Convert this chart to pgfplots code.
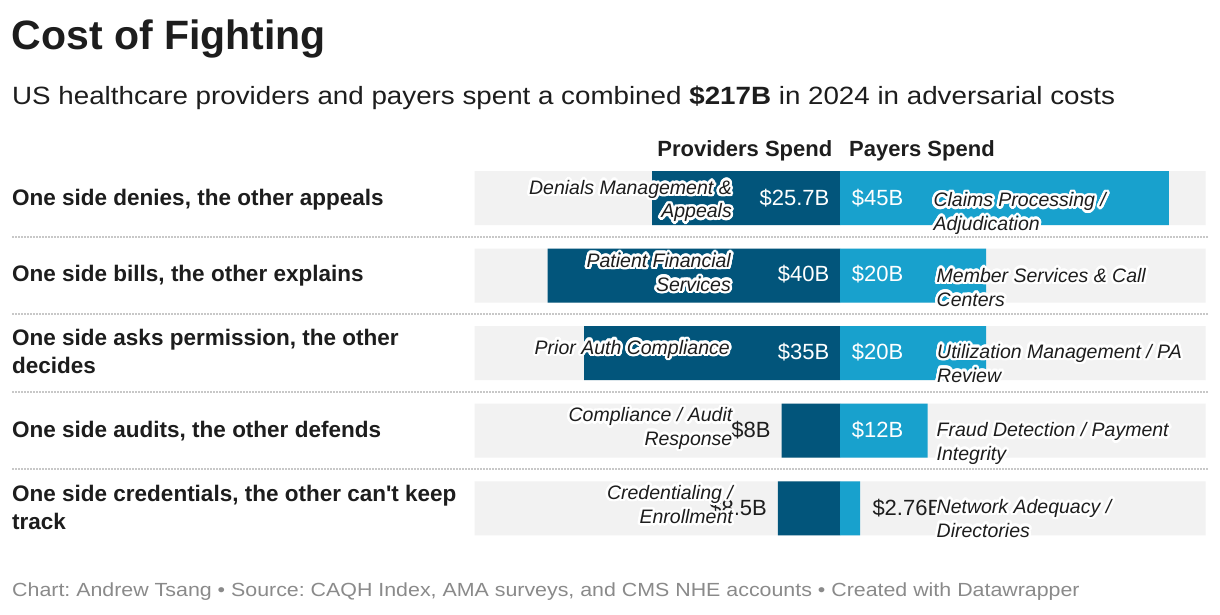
\documentclass[border=0pt]{standalone}
\usepackage{pgfplots}
\pgfplotsset{compat=1.18}
\usepackage{pgfplotstable}
\usepackage{fontspec}
\setmainfont{Liberation Sans}
\newfontfamily\widefont{Liberation Sans}[FakeStretch=1.11]
\newfontfamily\footfont{Liberation Sans}[FakeStretch=1.125]
\usepackage[copies]{contour}
\contourlength{2.5pt}
\contournumber{24}
\frenchspacing

\definecolor{provblue}{HTML}{02557B}
\definecolor{payblue}{HTML}{18A1CD}
\definecolor{bggray}{HTML}{F2F2F2}
\definecolor{ink}{HTML}{1D1D1D}
\definecolor{sepgray}{HTML}{C8C8C8}
\definecolor{footgray}{HTML}{8A8A8A}

% spend in $B, row 1 = top
\pgfplotstableread{
row prov pay
1 25.7 45
2 40   20
3 35   20
4 8    12
5 8.5  2.76
}\spend

\newcommand{\lab}{\fontsize{19.5}{23}\selectfont\itshape}
\newcommand{\val}{\fontsize{22}{26}\selectfont}
\newcommand{\rowlab}{\fontsize{22.5}{27}\selectfont\bfseries}
\newcommand{\halo}[1]{\contour{white}{#1}}

\begin{document}
\begin{tikzpicture}[text=ink]
\path[use as bounding box, fill=white] (0pt,0pt) rectangle (1220pt,-614pt);

% title block
\node[anchor=base west, inner sep=0pt] at (11.5pt,-49pt) {\fontsize{41}{48}\selectfont\bfseries Cost of Fighting};
\node[anchor=base west, inner sep=0pt] at (12pt,-104pt) {\widefont\fontsize{25}{29}\selectfont US healthcare providers and payers spent a combined \textbf{\$217B} in 2024 in adversarial costs};

% column headers
\node[anchor=base east, inner sep=0pt] at (832.5pt,-156.5pt) {\fontsize{22}{26}\selectfont\bfseries Providers Spend};
\node[anchor=base west, inner sep=0pt] at (849pt,-156.5pt) {\fontsize{22}{26}\selectfont\bfseries Payers Spend};

% row separators
\foreach \y in {237,314,392,469}
  \draw[sepgray, line width=1.3pt, dash pattern=on 1.5pt off 1.5pt] (12pt,-\y pt) -- (1208pt,-\y pt);

% row labels
\begin{scope}[every node/.style={anchor=base west, inner sep=0pt}]
\node at (12pt,-205.7pt) {\rowlab One side denies, the other appeals};
\node at (12pt,-281.7pt) {\rowlab One side bills, the other explains};
\node at (12pt,-345.7pt) {\rowlab One side asks permission, the other};
\node at (12pt,-373pt)   {\rowlab decides};
\node at (12pt,-437.7pt) {\rowlab One side audits, the other defends};
\node at (12pt,-501.7pt) {\rowlab One side credentials, the other can\textquotesingle t keep};
\node at (12pt,-529pt)   {\rowlab track};
\end{scope}

\begin{axis}[
  scale only axis,
  width=731pt, height=387.55pt,
  at={(474.5pt,-159.45pt)}, anchor=north west,
  xmin=-50, xmax=50, ymin=0.5, ymax=5.5,
  y dir=reverse,
  hide axis,
  xbar, bar width=54pt, bar shift=0pt,
  clip=false,
]
% grey track behind each row
\addplot[fill=bggray, draw=none] coordinates {(-50,1) (-50,2) (-50,3) (-50,4) (-50,5)};
\addplot[fill=bggray, draw=none] coordinates {(50,1) (50,2) (50,3) (50,4) (50,5)};
% providers to the left, payers to the right
\addplot[fill=provblue, draw=none] table[x expr=-\thisrow{prov}, y=row] {\spend};
\addplot[fill=payblue, draw=none] table[x=pay, y=row] {\spend};
\end{axis}

% value labels
\begin{scope}[every node/.style={inner sep=0pt}]
\node[anchor=base east, text=white] at (829.5pt,-205.7pt) {\val\$25.7B};
\node[anchor=base east, text=white] at (829.5pt,-281.7pt) {\val\$40B};
\node[anchor=base east, text=white] at (829.5pt,-359.3pt) {\val\$35B};
\node[anchor=base east] at (770.7pt,-437.7pt) {\val\$8B};
\node[anchor=base east] at (767pt,-515.7pt) {\val\$8.5B};
\node[anchor=base west, text=white] at (851.7pt,-205.7pt) {\val\$45B};
\node[anchor=base west, text=white] at (851.7pt,-281.7pt) {\val\$20B};
\node[anchor=base west, text=white] at (851.7pt,-359.3pt) {\val\$20B};
\node[anchor=base west, text=white] at (851.7pt,-437.7pt) {\val\$12B};
\node[anchor=base west] at (872.3pt,-515.7pt) {\val\$2.76B};
\end{scope}

% category labels with white halo
\begin{scope}[every node/.style={inner sep=0pt}]
\node[anchor=base east] at (732pt,-194.3pt) {\lab\halo{Denials Management \&}};
\node[anchor=base east] at (732pt,-217.7pt) {\lab\halo{Appeals}};
\node[anchor=base east] at (731pt,-267.3pt) {\lab\halo{Patient Financial}};
\node[anchor=base east] at (731pt,-291pt)   {\lab\halo{Services}};
\node[anchor=base east] at (730pt,-354pt)   {\lab\halo{Prior Auth Compliance}};
\node[anchor=base east] at (732.5pt,-421.7pt) {\lab\halo{Compliance / Audit}};
\node[anchor=base east] at (732.5pt,-445.4pt) {\lab\halo{Response}};
\node[anchor=base east] at (733pt,-499.3pt) {\lab\halo{Credentialing /}};
\node[anchor=base east] at (733pt,-523.5pt) {\lab\halo{Enrollment}};

\node[anchor=base west] at (933.3pt,-206.7pt) {\lab\halo{Claims Processing /}};
\node[anchor=base west] at (933.3pt,-230.3pt) {\lab\halo{Adjudication}};
\node[anchor=base west] at (936.5pt,-282.3pt) {\lab\halo{Member Services \& Call}};
\node[anchor=base west] at (936.5pt,-306pt)   {\lab\halo{Centers}};
\node[anchor=base west] at (937pt,-358.3pt) {\lab\halo{Utilization Management / PA}};
\node[anchor=base west] at (937pt,-382pt)   {\lab\halo{Review}};
\node[anchor=base west] at (936.5pt,-436.7pt) {\lab\halo{Fraud Detection / Payment}};
\node[anchor=base west] at (936.5pt,-460.4pt) {\lab\halo{Integrity}};
\node[anchor=base west] at (936.5pt,-513.3pt) {\lab\halo{Network Adequacy /}};
\node[anchor=base west] at (936.5pt,-537pt)   {\lab\halo{Directories}};
\end{scope}

% footer
\node[anchor=base west, inner sep=0pt, text=footgray] at (12pt,-596.5pt) {\footfont\fontsize{19}{23}\selectfont Chart: Andrew Tsang \textbullet{} Source: CAQH Index, AMA surveys, and CMS NHE accounts \textbullet{} Created with Datawrapper};
\end{tikzpicture}
\end{document}
